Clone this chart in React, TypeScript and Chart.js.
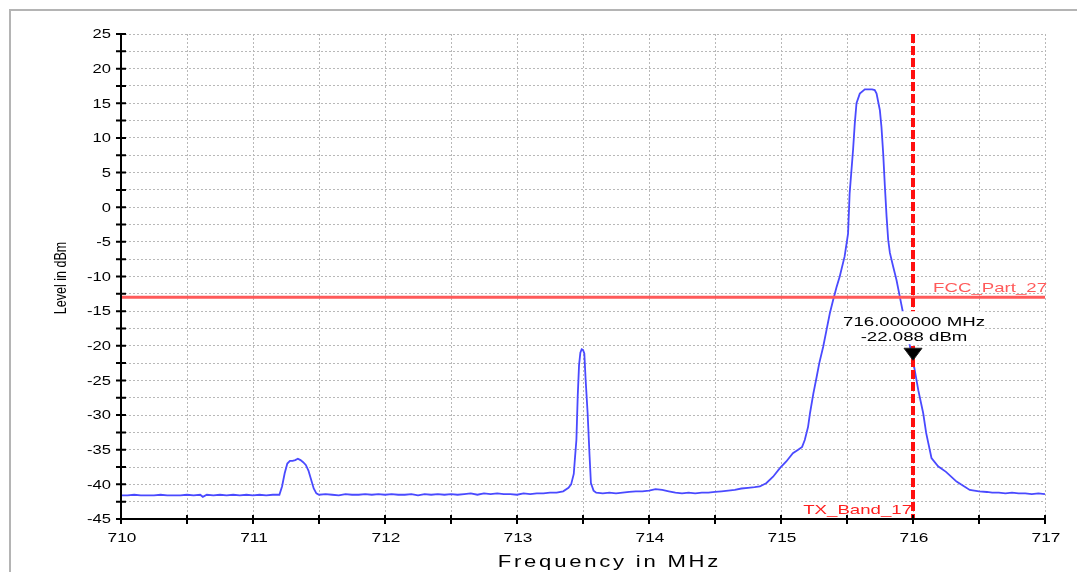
import React, { useEffect, useRef } from "react";
import { Chart, registerables } from "chart.js";

Chart.register(...registerables);

// ---------- data ----------
const freqMHz = [
  710.0, 710.05, 710.1, 710.15, 710.2, 710.25, 710.3, 710.35, 710.4, 710.45,
  710.5, 710.55, 710.6, 710.62, 710.65, 710.7, 710.75, 710.8, 710.85, 710.9,
  710.95, 711.0, 711.05, 711.1, 711.15, 711.2,
  711.22, 711.24, 711.26, 711.28, 711.3, 711.32, 711.34, 711.36, 711.38, 711.4,
  711.42, 711.44, 711.46, 711.48, 711.5,
  711.55, 711.6, 711.65, 711.7, 711.75, 711.8, 711.85, 711.9, 711.95, 712.0,
  712.05, 712.1, 712.15, 712.2, 712.25, 712.3, 712.35, 712.4, 712.45, 712.5,
  712.55, 712.6, 712.65, 712.7, 712.75, 712.8, 712.85, 712.9, 712.95, 713.0,
  713.05, 713.1, 713.15, 713.2, 713.25, 713.3, 713.35,
  713.39, 713.41, 713.43, 713.44, 713.45, 713.46, 713.47, 713.48, 713.49, 713.5,
  713.51, 713.52, 713.535, 713.55, 713.56, 713.58, 713.6,
  713.65, 713.7, 713.75, 713.8, 713.85, 713.9, 713.95, 714.0, 714.05, 714.1,
  714.15, 714.2, 714.25, 714.3, 714.35, 714.4, 714.45, 714.5, 714.55, 714.6,
  714.65, 714.7, 714.75, 714.8,
  714.84, 714.89, 714.94, 714.99, 715.04, 715.09, 715.13, 715.16, 715.18, 715.205,
  715.22, 715.245, 715.27, 715.29, 715.32, 715.345, 715.37, 715.395, 715.42, 715.445,
  715.482, 715.508, 715.52, 715.546, 715.559, 715.572, 715.597, 715.635, 715.69, 715.71,
  715.724, 715.749, 715.761, 715.774, 715.787, 715.8, 715.812, 715.825, 715.85, 715.875,
  715.9, 715.925, 715.95, 715.975, 716.0, 716.04, 716.077, 716.1, 716.14, 716.19,
  716.25, 716.33, 716.43, 716.5, 716.56, 716.6, 716.65, 716.7, 716.75, 716.8,
  716.85, 716.9, 716.95, 717.0,
];

const levelDbm = [
  -41.6, -41.6, -41.5, -41.6, -41.6, -41.6, -41.5, -41.6, -41.6, -41.6,
  -41.5, -41.6, -41.5, -41.8, -41.5, -41.6, -41.5, -41.6, -41.5, -41.6,
  -41.5, -41.6, -41.5, -41.6, -41.5, -41.5,
  -40.3, -38.4, -37.0, -36.6, -36.6, -36.5, -36.3, -36.5, -36.8, -37.2,
  -38.0, -39.3, -40.6, -41.3, -41.5,
  -41.4, -41.5, -41.6, -41.4, -41.5, -41.5, -41.4, -41.5, -41.4, -41.5,
  -41.4, -41.5, -41.5, -41.4, -41.6, -41.4, -41.5, -41.4, -41.5, -41.4,
  -41.5, -41.4, -41.3, -41.5, -41.3, -41.4, -41.3, -41.4, -41.4, -41.5,
  -41.3, -41.4, -41.3, -41.3, -41.2, -41.2, -41.0,
  -40.5, -40.0, -38.5, -36.0, -33.6, -27.3, -22.8, -21.0, -20.5, -20.6,
  -21.1, -24.9, -29.7, -36.0, -39.8, -40.9, -41.2,
  -41.3, -41.2, -41.3, -41.2, -41.1, -41.0, -41.0, -40.9, -40.7, -40.8,
  -41.0, -41.2, -41.3, -41.2, -41.3, -41.2, -41.2, -41.1, -41.0, -40.9,
  -40.8, -40.6, -40.5, -40.4,
  -40.3, -39.8, -38.9, -37.7, -36.7, -35.5, -35.0, -34.6, -33.6, -31.7,
  -29.7, -26.9, -24.5, -22.5, -20.1, -17.7, -15.3, -13.4, -11.6, -10.0,
  -7.1, -3.8, 2.0, 8.3, 12.1, 15.0, 16.4, 17.0, 17.0, 16.9,
  16.4, 14.0, 11.6, 7.8, 3.0, -1.4, -4.7, -6.6, -8.6, -10.5,
  -12.9, -15.3, -17.7, -19.9, -22.1, -26.4, -29.7, -32.6, -36.2, -37.4,
  -38.2, -39.6, -40.8, -41.0, -41.1, -41.2, -41.2, -41.3, -41.2, -41.3,
  -41.3, -41.4, -41.3, -41.4,
];

const xTickValues = [710, 711, 712, 713, 714, 715, 716, 717];
const yTickValues = [25, 20, 15, 10, 5, 0, -5, -10, -15, -20, -25, -30, -35, -40, -45];

const limitLevel = -13;
const limitLabel = "FCC_Part_27";
const bandEdgeFreq = 716;
const bandEdgeLabel = "TX_Band_17";
const markerFreq = 716.0;
const markerLevel = -22.088;
const markerLines = ["716.000000 MHz", "-22.088 dBm"];
const xTitle = "Frequency in MHz";
const yTitle = "Level in dBm";

// ---------- styling helpers ----------
const FONT = "'Liberation Sans', Arial, sans-serif";
const SX = 1.38; // horizontal stretch of the reference text

function stretchedText(
  ctx: CanvasRenderingContext2D,
  text: string,
  x: number,
  y: number,
  align: "left" | "center" | "right",
  size: number,
  color: string,
  spacing = 0,
  baseline: CanvasTextBaseline = "alphabetic"
) {
  ctx.save();
  ctx.font = `${size}px ${FONT}`;
  (ctx as any).letterSpacing = `${spacing}px`;
  ctx.fillStyle = color;
  ctx.textBaseline = baseline;
  ctx.textAlign = "left";
  const w = (ctx.measureText(text).width - spacing) * SX;
  let x0 = x;
  if (align === "center") x0 = x - w / 2;
  else if (align === "right") x0 = x - w;
  ctx.translate(x0, y);
  ctx.scale(SX, 1);
  ctx.fillText(text, 0, 0);
  ctx.restore();
  return w;
}

const decorPlugin = {
  id: "decor",
  beforeDraw(chart: any) {
    const ctx = chart.ctx as CanvasRenderingContext2D;
    ctx.save();
    ctx.fillStyle = "#ffffff";
    ctx.fillRect(0, 0, chart.width, chart.height);
    ctx.strokeStyle = "#b4b4b4";
    ctx.lineWidth = 2;
    ctx.beginPath();
    ctx.moveTo(10, chart.height + 2);
    ctx.lineTo(10, 10);
    ctx.lineTo(chart.width + 2, 10);
    ctx.stroke();
    ctx.restore();
  },
  afterDatasetsDraw(chart: any) {
    const ctx = chart.ctx as CanvasRenderingContext2D;
    const xs = chart.scales.x;
    const ys = chart.scales.y;
    const area = chart.chartArea;

    // limit line
    const ly = ys.getPixelForValue(limitLevel);
    ctx.save();
    ctx.strokeStyle = "#ff5a5a";
    ctx.lineWidth = 3;
    ctx.beginPath();
    ctx.moveTo(area.left, ly);
    ctx.lineTo(area.right, ly);
    ctx.stroke();
    ctx.restore();
    stretchedText(ctx, limitLabel, area.right + 2, ly - 5.5, "right", 13.5, "#ff5a5a");

    // band edge line
    const bx = xs.getPixelForValue(bandEdgeFreq);
    ctx.save();
    ctx.strokeStyle = "#ff1010";
    ctx.lineWidth = 4;
    ctx.setLineDash([9, 3]);
    ctx.beginPath();
    ctx.moveTo(bx, area.top);
    ctx.lineTo(bx, area.bottom);
    ctx.stroke();
    ctx.restore();
    stretchedText(ctx, bandEdgeLabel, bx - 1, area.bottom - 5, "right", 13.5, "#ff2020");

    // marker
    const mx = xs.getPixelForValue(markerFreq);
    const my = ys.getPixelForValue(markerLevel);
    ctx.save();
    ctx.fillStyle = "#ffffff";
    ctx.fillRect(mx - 70, my - 49, 140, 33);
    ctx.restore();
    stretchedText(ctx, markerLines[0], mx + 1, my - 34, "center", 13.5, "#000000");
    stretchedText(ctx, markerLines[1], mx + 1, my - 19, "center", 13.5, "#000000");
    ctx.save();
    ctx.fillStyle = "#000000";
    ctx.strokeStyle = "#202020";
    ctx.lineWidth = 1;
    ctx.beginPath();
    ctx.moveTo(mx - 9, my - 12);
    ctx.lineTo(mx + 9, my - 12);
    ctx.lineTo(mx, my);
    ctx.closePath();
    ctx.fill();
    ctx.stroke();
    ctx.restore();

    // axes
    ctx.save();
    ctx.strokeStyle = "#000000";
    ctx.lineWidth = 2;
    ctx.beginPath();
    ctx.moveTo(area.left, area.top);
    ctx.lineTo(area.left, area.bottom);
    ctx.lineTo(area.right, area.bottom);
    ctx.stroke();
    ctx.beginPath();
    for (const t of ys.ticks) {
      const py = ys.getPixelForValue(t.value);
      ctx.moveTo(area.left - 5, py);
      ctx.lineTo(area.left + 5, py);
    }
    for (const t of xs.ticks) {
      const px = xs.getPixelForValue(t.value);
      ctx.moveTo(px, area.bottom - 4);
      ctx.lineTo(px, area.bottom + 5);
    }
    ctx.stroke();
    ctx.restore();

    for (const v of yTickValues) {
      stretchedText(ctx, String(v), area.left - 10, ys.getPixelForValue(v) + 1, "right", 12, "#000000", 0, "middle");
    }
    for (const v of xTickValues) {
      stretchedText(ctx, String(v), xs.getPixelForValue(v) + 1, area.bottom + 23, "center", 12.5, "#000000");
    }

    // titles
    stretchedText(ctx, xTitle, 608, 567, "center", 16, "#000000", 2);
    ctx.save();
    ctx.font = `12.5px ${FONT}`;
    ctx.fillStyle = "#000000";
    ctx.textAlign = "center";
    ctx.textBaseline = "middle";
    ctx.translate(61, 278);
    ctx.rotate(-Math.PI / 2);
    ctx.scale(1, SX);
    ctx.fillText(yTitle, 0, 0);
    ctx.restore();
  },
};

export default function App() {
  const ref = useRef<HTMLCanvasElement | null>(null);

  useEffect(() => {
    if (!ref.current) return;
    const chart = new Chart(ref.current, {
      type: "line",
      data: {
        datasets: [
          {
            data: freqMHz.map((f, i) => ({ x: f, y: levelDbm[i] })),
            borderColor: "#4a4aff",
            borderWidth: 1.8,
            pointRadius: 0,
            tension: 0,
            fill: false,
          },
        ],
      },
      options: {
        animation: false,
        responsive: false,
        devicePixelRatio: 1,
        layout: { padding: { left: 0, top: 34, right: 32, bottom: 0 } },
        plugins: {
          legend: { display: false },
          tooltip: { enabled: false },
          title: { display: false },
        },
        scales: {
          x: {
            type: "linear",
            min: 710,
            max: 717,
            afterFit: (s: any) => {
              s.height = 53;
            },
            ticks: { stepSize: 0.5, display: false },
            grid: { color: "#b8b8b8", lineWidth: 1, drawTicks: false },
            border: { display: false, dash: [2, 2] },
          },
          y: {
            type: "linear",
            min: -45,
            max: 25,
            afterFit: (s: any) => {
              s.width = 121;
            },
            ticks: { stepSize: 2.5, display: false },
            grid: { color: "#b8b8b8", lineWidth: 1, drawTicks: false },
            border: { display: false, dash: [2, 2] },
          },
        },
      },
      plugins: [decorPlugin],
    });
    return () => chart.destroy();
  }, []);

  return (
    <div style={{ position: "fixed", left: 0, top: 0, width: 1077, height: 572, background: "#fff" }}>
      <canvas ref={ref} width={1077} height={572} style={{ display: "block" }} />
    </div>
  );
}
